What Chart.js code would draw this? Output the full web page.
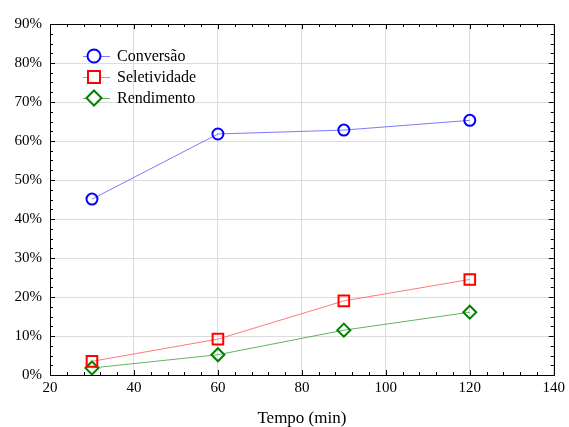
<!DOCTYPE html>
<html>
<head>
<meta charset="utf-8">
<script src="https://cdn.jsdelivr.net/npm/chart.js@4/dist/chart.umd.min.js"></script>
<style>
  html, body { margin: 0; padding: 0; background: #fff; }
  #wrap { width: 569px; height: 427px; }
</style>
</head>
<body>
<div id="wrap"><canvas id="chart" width="569" height="427"></canvas></div>
<script>
const tempo = [30, 60, 90, 120];
const conversao = [45.1, 61.8, 62.8, 65.3];
const seletividade = [3.5, 9.2, 19.0, 24.5];
const rendimento = [1.8, 5.2, 11.5, 16.1];

const serif = '"Liberation Serif", "DejaVu Serif", serif';

// inward ticks on all four sides of the frame + box
const frameTicks = {
    id: 'frameTicks',
    afterDraw(chart) {
        const { ctx, chartArea: a, scales: { x, y } } = chart;
        ctx.save();
        ctx.strokeStyle = '#000';
        ctx.lineWidth = 1;
        ctx.beginPath();
        for (let v = 20; v <= 140; v += 4) {
            const px = Math.round(x.getPixelForValue(v)) + 0.5;
            const len = (v % 20 === 0) ? 5 : 3;
            ctx.moveTo(px, a.bottom); ctx.lineTo(px, a.bottom - len);
            ctx.moveTo(px, a.top); ctx.lineTo(px, a.top + len);
        }
        for (let v = 0; v <= 90; v += 2.5) {
            const py = Math.round(y.getPixelForValue(v)) + 0.5;
            const len = (v % 10 === 0) ? 5 : 3;
            ctx.moveTo(a.left, py); ctx.lineTo(a.left + len, py);
            ctx.moveTo(a.right, py); ctx.lineTo(a.right - len, py);
        }
        ctx.stroke();
        ctx.strokeRect(Math.round(a.left) + 0.5, Math.round(a.top) + 0.5,
            Math.round(a.right - a.left), Math.round(a.bottom - a.top));
        ctx.restore();
    }
};

// legend drawn inside the plot area, top-left
const innerLegend = {
    id: 'innerLegend',
    afterDraw(chart) {
        const ctx = chart.ctx;
        const a = chart.chartArea;
        ctx.save();
        chart.data.datasets.forEach((ds, i) => {
            const cy = a.top + 32 + i * 21;
            const mx = a.left + 44;
            ctx.strokeStyle = ds.borderColor;
            ctx.lineWidth = 1;
            ctx.beginPath();
            ctx.moveTo(a.left + 33, cy + 0.5);
            ctx.lineTo(a.left + 60, cy + 0.5);
            ctx.stroke();
            ctx.strokeStyle = ds.pointBorderColor;
            ctx.lineWidth = 2;
            ctx.fillStyle = '#fff';
            Chart.helpers.drawPoint(ctx, {
                pointStyle: ds.pointStyle, rotation: 0,
                radius: ds.pointRadius + 1, borderWidth: 2
            }, mx, cy);
            ctx.fillStyle = '#000';
            ctx.font = '16px ' + serif;
            ctx.textBaseline = 'middle';
            ctx.fillText(ds.label, a.left + 67, cy + 1);
        });
        ctx.restore();
    }
};

new Chart(document.getElementById('chart'), {
    type: 'line',
    data: {
        datasets: [
            {
                label: 'Conversão',
                data: tempo.map((t, i) => ({ x: t, y: conversao[i] })),
                borderColor: 'rgba(90,90,255,0.8)',
                pointBorderColor: '#0000ff',
                pointStyle: 'circle',
                pointRadius: 5.5
            },
            {
                label: 'Seletividade',
                data: tempo.map((t, i) => ({ x: t, y: seletividade[i] })),
                borderColor: 'rgba(255,90,90,0.8)',
                pointBorderColor: '#ff0000',
                pointStyle: 'rect',
                pointRadius: 7.5
            },
            {
                label: 'Rendimento',
                data: tempo.map((t, i) => ({ x: t, y: rendimento[i] })),
                borderColor: 'rgba(60,160,60,0.8)',
                pointBorderColor: '#008000',
                pointStyle: 'rectRot',
                pointRadius: 6.5
            }
        ].map(ds => Object.assign(ds, {
            borderWidth: 1,
            pointBorderWidth: 2,
            pointBackgroundColor: 'rgba(255,255,255,0)',
            tension: 0
        }))
    },
    options: {
        responsive: false,
        animation: false,
        layout: { padding: { top: 24, right: 12, left: 0, bottom: 0 } },
        plugins: { legend: { display: false }, tooltip: { enabled: false } },
        scales: {
            x: {
                type: 'linear', min: 20, max: 140,
                ticks: { stepSize: 20, color: '#000', padding: 4, font: { family: serif, size: 15 } },
                grid: { color: '#dcdcdc', drawTicks: false },
                border: { color: '#000' },
                title: { display: true, text: 'Tempo (min)', color: '#000',
                         padding: { top: 0, bottom: -2 },
                         font: { family: serif, size: 17 } },
                afterFit(s) { s.height = 52; }
            },
            y: {
                min: 0, max: 90,
                ticks: { stepSize: 10, color: '#000', padding: 8, font: { family: serif, size: 15 },
                         callback: v => v + '%' },
                grid: { color: '#dcdcdc', drawTicks: false },
                border: { color: '#000' },
                afterFit(s) { s.width = 50; }
            }
        }
    },
    plugins: [frameTicks, innerLegend]
});
</script>
</body>
</html>
